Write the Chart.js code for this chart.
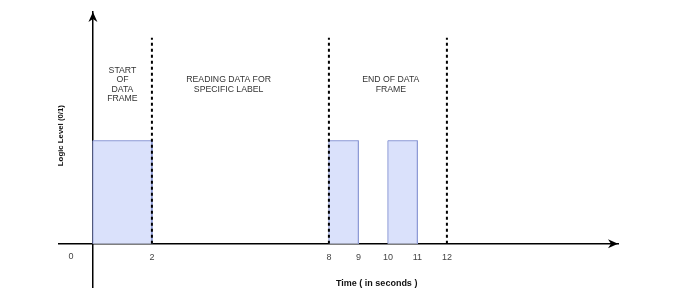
<!DOCTYPE html>
<html>
<head>
<meta charset="utf-8">
<script src="https://cdn.jsdelivr.net/npm/chart.js@4.4.1/dist/chart.umd.min.js"></script>
<style>
  html, body { margin: 0; padding: 0; background: #fff; }
  canvas { display: block; }
</style>
</head>
<body>
<canvas id="chart" width="674" height="297"></canvas>
<script>
// Pulse intervals (start, end) in seconds, logic level 1
const pulseStarts = [0, 8, 10];
const pulseEnds = [2, 9, 11];
const pulseLevel = 1;

// Dashed boundary lines
const markerTimes = [2, 8, 12];
const markerHeight = 2;

// x tick labels
const tickValues = [2, 8, 9, 10, 11, 12];
const originLabel = "0";

// texts
const xTitle = "Time ( in seconds )";
const yTitle = "Logic Level (0/1)";
const sectionLabels = [
    ["START", "OF", "DATA", "FRAME"],
    ["READING DATA FOR", "SPECIFIC LABEL"],
    ["END OF DATA", "FRAME"]
];

const FONT = "'Liberation Sans', Arial, sans-serif";

// Datensätze bauen
const datasets = [];
markerTimes.forEach(t => {
    datasets.push({
        data: [{x: t, y: 0}, {x: t, y: markerHeight}],
        borderColor: "#000",
        borderWidth: 2,
        borderDash: [3, 3],
        pointRadius: 0,
        fill: false,
        order: 0
    });
});
pulseStarts.forEach((s, i) => {
    const e = pulseEnds[i];
    datasets.push({
        data: [{x: s, y: 0}, {x: s, y: pulseLevel}, {x: e, y: pulseLevel}, {x: e, y: 0}],
        borderColor: "#8e9bd6",
        backgroundColor: "#dae1fb",
        borderWidth: 1,
        pointRadius: 0,
        tension: 0,
        fill: "origin",
        order: 1
    });
});

// Pfeile, Beschriftungen, Achsentitel
const decorations = {
    id: "decorations",
    afterDraw(chart){
        const ctx = chart.ctx;
        const xs = chart.scales.x, ys = chart.scales.y;
        const area = chart.chartArea;
        const x0 = xs.getPixelForValue(0), y0 = ys.getPixelForValue(0);

        ctx.save();
        ctx.fillStyle = "#000";
        // x arrow
        let tx = area.right, ty = y0;
        ctx.beginPath();
        ctx.moveTo(tx, ty);
        ctx.lineTo(tx - 10, ty - 4.5);
        ctx.lineTo(tx - 7, ty);
        ctx.lineTo(tx - 10, ty + 4.5);
        ctx.closePath();
        ctx.fill();
        // y arrow
        tx = x0; ty = area.top;
        ctx.beginPath();
        ctx.moveTo(tx, ty);
        ctx.lineTo(tx - 4.5, ty + 10);
        ctx.lineTo(tx, ty + 7);
        ctx.lineTo(tx + 4.5, ty + 10);
        ctx.closePath();
        ctx.fill();

        // origin label
        ctx.fillStyle = "#444";
        ctx.font = "9px " + FONT;
        ctx.textAlign = "center";
        ctx.textBaseline = "middle";
        ctx.fillText(originLabel, x0 - 22, y0 + 13);

        // section labels
        ctx.fillStyle = "#333";
        ctx.font = "8.7px " + FONT;
        const centers = [[1, 1.68], [4.6, 1.59], [10.1, 1.59]];
        sectionLabels.forEach((lines, i) => {
            const cx = xs.getPixelForValue(centers[i][0]);
            const cy = ys.getPixelForValue(centers[i][1]);
            lines.forEach((ln, j) => ctx.fillText(ln, cx, cy + j * 9.3));
        });

        // axis titles
        ctx.fillStyle = "#111";
        ctx.font = "bold 9px " + FONT;
        ctx.fillText(xTitle, xs.getPixelForValue(9.62), area.bottom - 3);
        ctx.translate(x0 - 32, ys.getPixelForValue(1.05));
        ctx.rotate(-Math.PI / 2);
        ctx.font = "bold 7.8px " + FONT;
        ctx.fillText(yTitle, 0, 0);
        ctx.restore();
    }
};

new Chart(document.getElementById("chart"), {
    type: "line",
    data: { datasets },
    options: {
        responsive: false,
        animation: false,
        layout: { padding: { left: 59, right: 56, top: 12, bottom: 10 } },
        plugins: { legend: { display: false }, tooltip: { enabled: false } },
        scales: {
            x: {
                type: "linear",
                position: { y: 0 },
                min: -1.15,
                max: 17.8,
                z: 1,
                grid: { display: false, drawTicks: false },
                border: { display: true, color: "#000", width: 1.5 },
                afterBuildTicks: scale => { scale.ticks = tickValues.map(v => ({value: v})); },
                ticks: {
                    autoSkip: false,
                    maxRotation: 0,
                    padding: 8,
                    color: "#444",
                    font: { family: FONT, size: 9 },
                    callback: v => String(v)
                }
            },
            y: {
                type: "linear",
                position: { x: 0 },
                min: -0.42,
                max: 2.25,
                z: 1,
                grid: { display: false, drawTicks: false },
                border: { display: true, color: "#000", width: 1.5 },
                ticks: { display: false }
            }
        }
    },
    plugins: [decorations]
});
</script>
</body>
</html>
